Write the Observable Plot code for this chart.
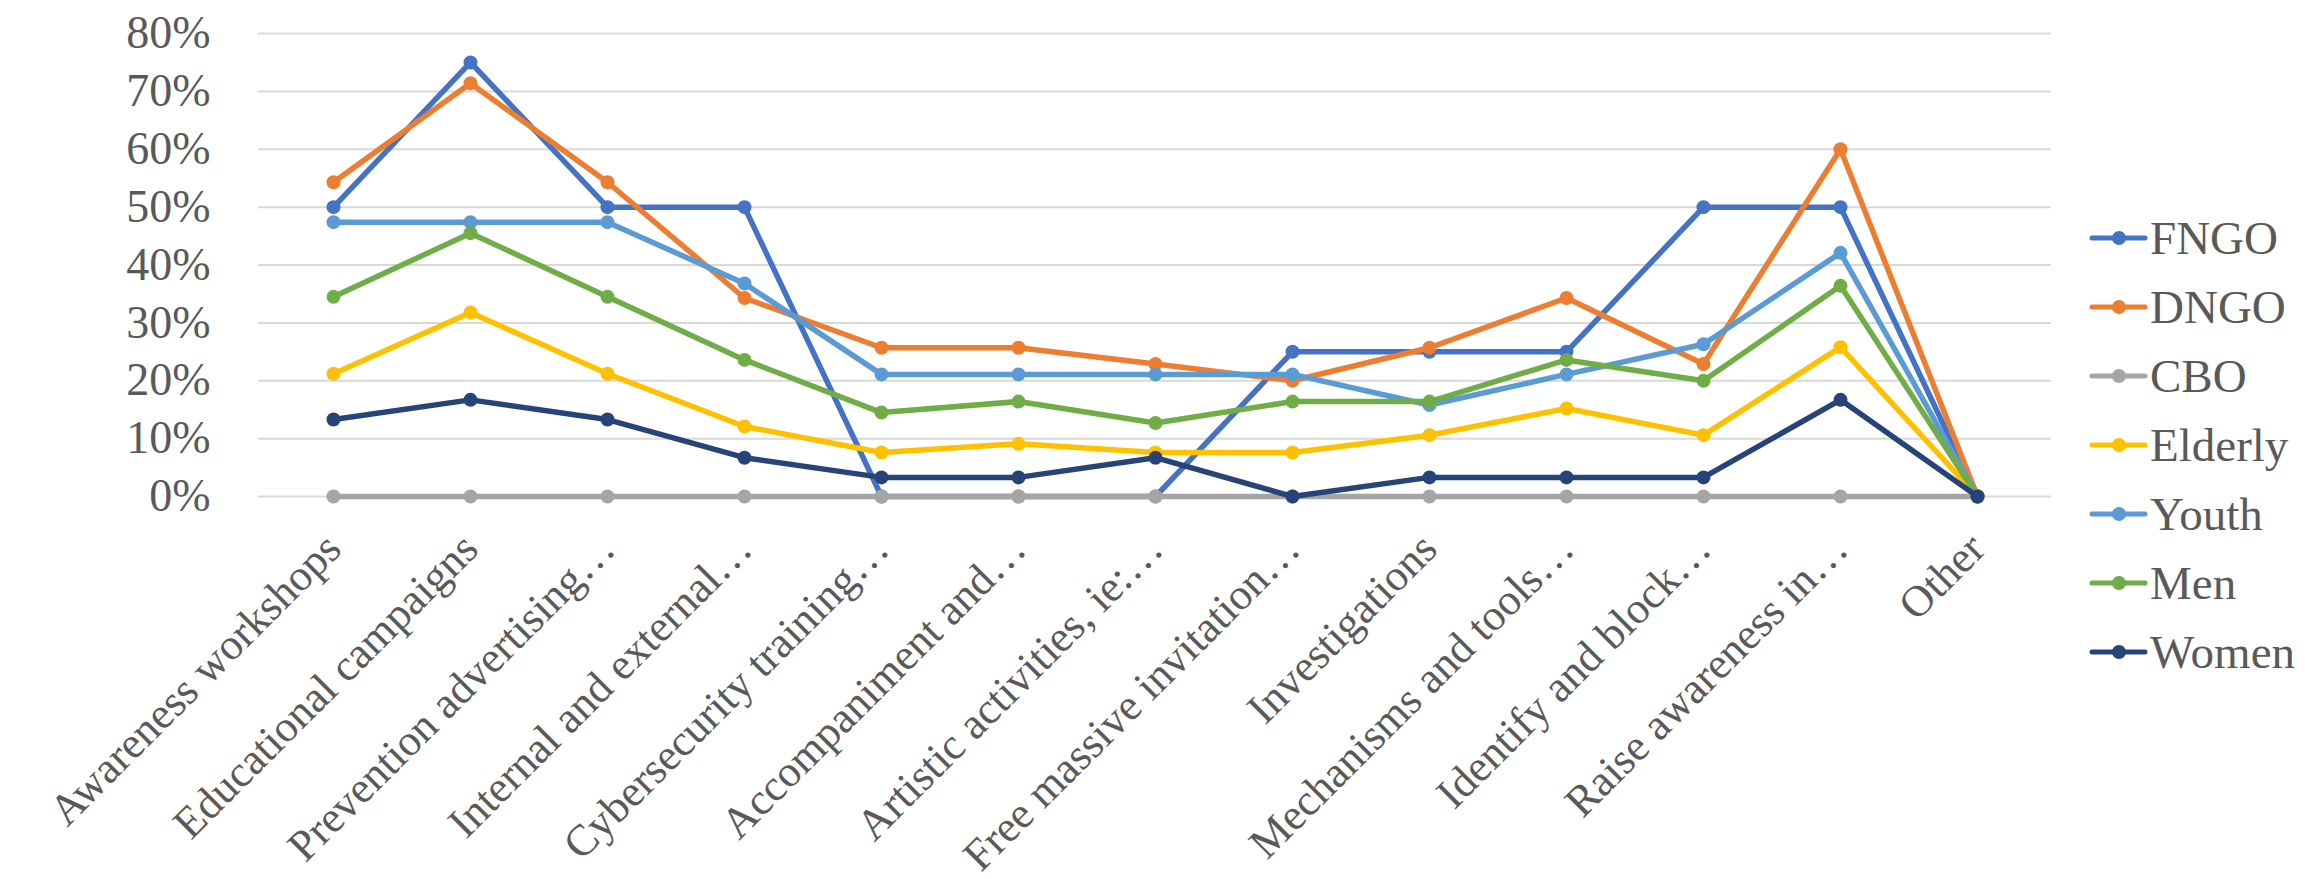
<!DOCTYPE html>
<html>
<head>
<meta charset="utf-8">
<script src="https://cdn.jsdelivr.net/npm/d3@7"></script>
<script src="https://cdn.jsdelivr.net/npm/@observablehq/plot@0.6"></script>
<style>
  html, body { margin: 0; padding: 0; background: #fff; }
  #wrap { position: relative; width: 2305px; height: 879px; overflow: hidden; }
  #chart svg { display: block; }
  #legend { position: absolute; left: 2080px; top: 190px; }
</style>
</head>
<body>
<div id="wrap">
  <div id="chart"></div>
  <svg id="legend" width="225" height="500"></svg>
</div>
<script>
const categories = [
  "Awareness workshops",
  "Educational campaigns",
  "Prevention advertising…",
  "Internal and external…",
  "Cybersecurity training…",
  "Accompaniment and…",
  "Artistic activities, ie:…",
  "Free massive invitation…",
  "Investigations",
  "Mechanisms and tools…",
  "Identify and block…",
  "Raise awareness in…",
  "Other"
];

const seriesNames = ["FNGO", "DNGO", "CBO", "Elderly", "Youth", "Men", "Women"];
const seriesColors = ["#4472C4", "#ED7D31", "#A5A5A5", "#FFC000", "#5B9BD5", "#70AD47", "#264478"];

// values in percent
const fngo    = [50, 75, 50, 50, 0, 0, 0, 25, 25, 25, 50, 50, 0];
const dngo    = [54.3, 71.4, 54.3, 34.3, 25.7, 25.7, 22.9, 20.0, 25.7, 34.3, 22.9, 60.0, 0];
const cbo     = [0, 0, 0, 0, 0, 0, 0, 0, 0, 0, 0, 0, 0];
const elderly = [21.2, 31.8, 21.2, 12.1, 7.6, 9.1, 7.6, 7.6, 10.6, 15.2, 10.6, 25.8, 0];
const youth   = [47.4, 47.4, 47.4, 36.8, 21.1, 21.1, 21.1, 21.1, 15.8, 21.1, 26.3, 42.1, 0];
const men     = [34.5, 45.5, 34.5, 23.6, 14.5, 16.4, 12.7, 16.4, 16.4, 23.6, 20.0, 36.4, 0];
const women   = [13.3, 16.7, 13.3, 6.7, 3.3, 3.3, 6.7, 0, 3.3, 3.3, 3.3, 16.7, 0];

const yTicks = [0, 0.1, 0.2, 0.3, 0.4, 0.5, 0.6, 0.7, 0.8];

const seriesValues = [fngo, dngo, cbo, elderly, youth, men, women];
const data = seriesNames.flatMap((s, i) =>
  categories.map((c, j) => ({series: s, category: c, value: seriesValues[i][j] / 100}))
);

const font = "'Liberation Serif', 'Times New Roman', serif";
const textColor = "#595959";

const seriesMarks = seriesNames.flatMap((s, i) => {
  const d = data.filter(r => r.series === s);
  return [
    Plot.line(d, {x: "category", y: "value", stroke: seriesColors[i], strokeWidth: 5.5, strokeLinejoin: "round", strokeLinecap: "round"}),
    Plot.dot(d, {x: "category", y: "value", fill: seriesColors[i], r: 7, stroke: "none"})
  ];
});

const chart = Plot.plot({
  width: 2305,
  height: 879,
  marginLeft: 258,
  marginRight: 254,
  marginTop: 33,
  marginBottom: 383,
  style: {fontFamily: font, color: textColor, background: "#fff"},
  x: {type: "point", domain: categories, padding: 0.5, axis: null},
  y: {domain: [0, 0.8], axis: null},
  marks: [
    Plot.ruleY(yTicks, {stroke: "#D9D9D9", strokeWidth: 2}),
    Plot.axisY(yTicks, {tickSize: 0, tickPadding: 48, fontSize: 46, tickFormat: d3.format(".0%"), fill: textColor, label: null}),
    Plot.text(categories, {x: d => d, frameAnchor: "bottom", rotate: -45, textAnchor: "end", lineAnchor: "middle", dx: 0, dy: 45, fontSize: 44, fill: textColor}),
    ...seriesMarks
  ]
});
document.getElementById("chart").appendChild(chart);

// legend
const legend = d3.select("#legend");
const legendTop = 48;
const legendStep = 69;
seriesNames.forEach((s, i) => {
  const g = legend.append("g").attr("transform", `translate(0, ${legendTop + i * legendStep})`);
  g.append("line").attr("x1", 12).attr("x2", 65).attr("y1", 0).attr("y2", 0)
    .attr("stroke", seriesColors[i]).attr("stroke-width", 5).attr("stroke-linecap", "round");
  g.append("circle").attr("cx", 39).attr("cy", 0).attr("r", 7).attr("fill", seriesColors[i]);
  g.append("text").attr("x", 70).attr("y", 0).attr("dy", "0.33em")
    .attr("font-family", font).attr("font-size", 47).attr("fill", textColor).text(s);
});
</script>
</body>
</html>
